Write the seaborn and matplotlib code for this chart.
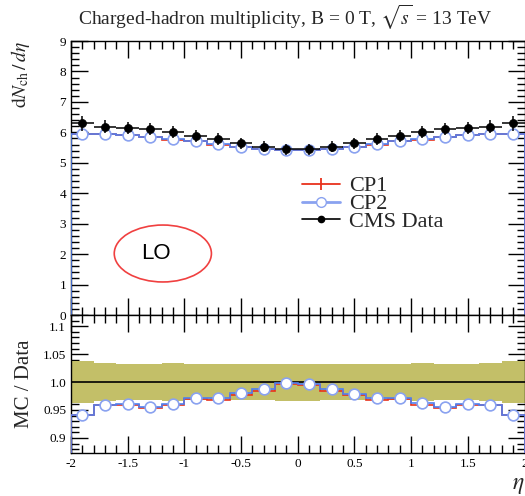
import numpy as np
import pandas as pd
import matplotlib
matplotlib.use("Agg")
import matplotlib.pyplot as plt
import seaborn as sns
from matplotlib.patches import Ellipse
from matplotlib.lines import Line2D
from matplotlib.ticker import MultipleLocator, FixedLocator

# ---------------- data ----------------
eta = [-1.9, -1.7, -1.5, -1.3, -1.1, -0.9, -0.7, -0.5, -0.3, -0.1,
       0.1, 0.3, 0.5, 0.7, 0.9, 1.1, 1.3, 1.5, 1.7, 1.9]
bin_width = 0.2
cms_data = [6.30, 6.19, 6.15, 6.12, 6.01, 5.88, 5.78, 5.64, 5.53, 5.44,
            5.44, 5.53, 5.64, 5.78, 5.88, 6.01, 6.12, 6.15, 6.19, 6.30]
cms_err = [0.24, 0.21, 0.20, 0.20, 0.20, 0.19, 0.19, 0.18, 0.18, 0.18,
           0.18, 0.18, 0.18, 0.19, 0.19, 0.20, 0.20, 0.20, 0.21, 0.24]
cp1 = [5.93, 5.94, 5.90, 5.84, 5.76, 5.70, 5.59, 5.51, 5.44, 5.42,
       5.41, 5.44, 5.51, 5.59, 5.70, 5.76, 5.84, 5.90, 5.94, 5.93]
cp2 = [5.93, 5.94, 5.91, 5.85, 5.77, 5.71, 5.61, 5.53, 5.46, 5.43,
       5.42, 5.46, 5.52, 5.61, 5.71, 5.78, 5.85, 5.91, 5.94, 5.93]
x_ticks = [-2, -1.5, -1, -0.5, 0, 0.5, 1, 1.5, 2]
x_ticklabels = ["-2", "-1.5", "-1", "-0.5", "0", "0.5", "1", "1.5", "2"]
ratio_ticks = [0.9, 0.95, 1.0, 1.05, 1.1]
ratio_ticklabels = ["0.9", "0.95", "1.0", "1.05", "1.1"]

eta_a = np.array(eta)
data_a = np.array(cms_data)
err_a = np.array(cms_err)
cp1_a = np.array(cp1)
cp2_a = np.array(cp2)
edges = np.append(eta_a - bin_width / 2, eta_a[-1] + bin_width / 2)

df = pd.DataFrame({"eta": eta_a, "data": data_a, "cp1": cp1_a, "cp2": cp2_a,
                   "r1": cp1_a / data_a, "r2": cp2_a / data_a})

# ---------------- style ----------------
sns.set_style("ticks")
plt.rcParams["font.family"] = ["Liberation Serif", "DejaVu Serif"]
plt.rcParams["mathtext.fontset"] = "stix"

RED = "#e8321c"
BLUE = "#4f7ff0"
BLUE_M = "#8aa2f0"
OLIVE = "#c3bf68"

W, H = 525, 496
fig = plt.figure(figsize=(W / 100, H / 100), dpi=100)
left, right = 71 / W, 524.5 / W
ax = fig.add_axes([left, 1 - 315 / H, right - left, (315 - 41) / H])
axr = fig.add_axes([left, 1 - 453 / H, right - left, (453 - 315) / H], sharex=ax)

# ---------------- main panel ----------------
ax.stairs(cp1_a, edges, color=RED, lw=1.2, zorder=2)
ax.errorbar(eta_a, cp1_a, yerr=0.03, fmt="none", ecolor=RED, elinewidth=1.0, zorder=2)
ax.stairs(cp2_a, edges, color=BLUE, lw=1.2, zorder=3)
sns.scatterplot(data=df, x="eta", y="cp2", ax=ax, marker="o", s=60,
                facecolor="white", edgecolor=BLUE_M, linewidth=1.2, zorder=4, legend=False)
ax.errorbar(eta_a, data_a, yerr=err_a, xerr=bin_width / 2, fmt="none",
            ecolor="black", elinewidth=1.1, zorder=5)
sns.scatterplot(data=df, x="eta", y="data", ax=ax, marker="o", s=34,
                color="black", edgecolor="black", zorder=6, legend=False)

ax.set_xlim(-2, 2)
ax.set_ylim(0, 9)
ax.set_xlabel("")
ax.set_ylabel(r"$\mathrm{d}N_{\mathrm{ch}}\,/\,d\eta$", fontsize=14, loc="top")
ax.yaxis.set_label_coords(-0.085, 1.0)
ax.yaxis.set_major_locator(MultipleLocator(1))
ax.yaxis.set_minor_locator(MultipleLocator(0.2))
ax.xaxis.set_major_locator(FixedLocator(x_ticks))
ax.xaxis.set_minor_locator(MultipleLocator(0.1))
ax.tick_params(axis="x", labelbottom=False)

ell = Ellipse((-1.19, 2.02), 0.857, 1.87, fill=False, edgecolor="#f04040", lw=1.2, zorder=7)
ax.add_patch(ell)
ax.text(-1.25, 2.02, "LO", ha="center", va="center", fontsize=16,
        family=["Liberation Sans", "DejaVu Sans"], color="black", zorder=8)

handles = [
    Line2D([0], [0], color=RED, lw=1.3, marker="|", markersize=9, markeredgewidth=1.3),
    Line2D([0], [0], color=BLUE_M, lw=2.0, marker="o", markersize=7,
           markerfacecolor="white", markeredgecolor=BLUE_M),
    Line2D([0], [0], color="black", lw=1.2, marker="o", markersize=4.5),
]
ax.legend(handles, ["CP1", "CP2", "CMS Data"], loc="upper left",
          bbox_to_anchor=(0.49, 0.54), frameon=False, fontsize=16,
          handlelength=1.7, handletextpad=0.4, labelspacing=-0.12, borderaxespad=0)

# ---------------- ratio panel ----------------
band_rel = err_a / data_a
axr.stairs(1 + band_rel, edges, baseline=1 - band_rel, fill=True, color=OLIVE,
           lw=0, zorder=1)
axr.axhline(1.0, color="black", lw=1.2, zorder=2)
axr.stairs(df["r1"].to_numpy(), edges, color=RED, lw=1.2, zorder=3)
axr.stairs(df["r2"].to_numpy(), edges, color=BLUE, lw=1.2, zorder=4)
sns.scatterplot(data=df, x="eta", y="r2", ax=axr, marker="o", s=60,
                facecolor="white", edgecolor=BLUE_M, linewidth=1.2, zorder=5, legend=False)

axr.set_xlim(-2, 2)
axr.set_ylim(0.873, 1.12)
axr.set_ylabel("MC / Data", fontsize=15)
axr.yaxis.set_label_coords(-0.082, 0.5)
axr.set_xlabel(r"$\eta$", fontsize=17, loc="right", labelpad=4)
axr.xaxis.set_major_locator(FixedLocator(x_ticks))
axr.set_xticklabels(x_ticklabels)
axr.xaxis.set_minor_locator(MultipleLocator(0.1))
axr.yaxis.set_major_locator(FixedLocator(ratio_ticks))
axr.set_yticklabels(ratio_ticklabels)
axr.yaxis.set_minor_locator(MultipleLocator(0.01))

for a in (ax, axr):
    a.tick_params(which="both", direction="in", top=True, right=True,
                  labelsize=9.5, colors="black", width=1.0)
    a.tick_params(which="major", length=12)
    a.tick_params(which="minor", length=6)
    for s in a.spines.values():
        s.set_linewidth(1.0)
        s.set_color("black")

fig.text(285 / W, 1 - 17 / H,
         r"Charged-hadron multiplicity, B = 0 T, $\sqrt{s}$ = 13 TeV",
         ha="center", va="center", fontsize=14)

fig.savefig("out.png", dpi=100)
